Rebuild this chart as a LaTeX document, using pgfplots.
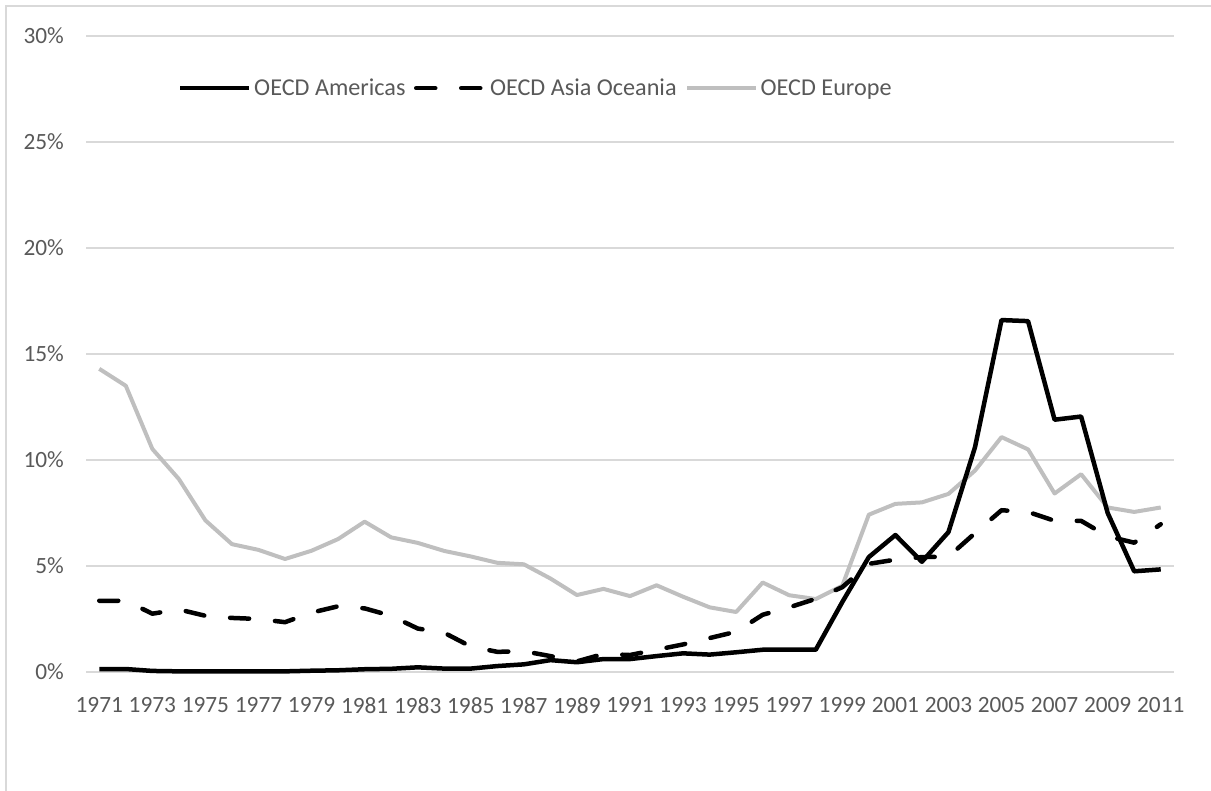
\documentclass[border=0pt]{standalone}
\usepackage{pgfplots}
\pgfplotsset{compat=1.18}
\usepackage{fontspec}
\setmainfont{Carlito}
\definecolor{gridc}{HTML}{D9D9D9}
\definecolor{txt}{HTML}{595959}
\definecolor{eur}{HTML}{BFBFBF}

\pgfplotstableread{
year am as eu
1971 0.14 3.36 14.30
1972 0.14 3.36 13.50
1973 0.05 2.75 10.52
1974 0.03 2.95 9.10
1975 0.03 2.65 7.15
1976 0.03 2.55 6.03
1977 0.03 2.50 5.76
1978 0.03 2.35 5.33
1979 0.06 2.80 5.72
1980 0.08 3.10 6.27
1981 0.13 3.00 7.09
1982 0.15 2.65 6.35
1983 0.22 2.05 6.09
1984 0.16 1.85 5.71
1985 0.16 1.20 5.45
1986 0.28 0.95 5.15
1987 0.36 0.98 5.08
1988 0.56 0.75 4.41
1989 0.46 0.50 3.63
1990 0.61 0.85 3.92
1991 0.61 0.80 3.58
1992 0.75 1.05 4.09
1993 0.88 1.30 3.55
1994 0.82 1.60 3.05
1995 0.93 1.90 2.83
1996 1.05 2.70 4.22
1997 1.05 3.05 3.62
1998 1.05 3.45 3.44
1999 3.30 4.00 4.07
2000 5.42 5.10 7.42
2001 6.46 5.30 7.93
2002 5.20 5.42 8.00
2003 6.60 5.44 8.40
2004 10.60 6.55 9.50
2005 16.60 7.63 11.08
2006 16.55 7.55 10.50
2007 11.90 7.13 8.42
2008 12.05 7.13 9.33
2009 7.50 6.40 7.76
2010 4.75 6.10 7.55
2011 4.84 6.97 7.76
}\datatable

\begin{document}
\begin{tikzpicture}[x=1bp,y=1bp]
\path[use as bounding box] (0,0) rectangle (1211,791);
\draw[gridc, line width=1.5bp] (6,0) -- (6,785) -- (1211,785);
\begin{axis}[
  at={(86bp,119bp)}, anchor=south west,
  scale only axis, width=1088bp, height=636bp,
  xmin=1970.5, xmax=2011.5, ymin=0, ymax=30,
  clip=false,
  axis line style={draw=none},
  major tick length=0pt,
  ymajorgrids,
  major grid style={gridc, line width=1.2bp},
  ytick={0,5,10,15,20,25,30},
  yticklabels={0\%,5\%,10\%,15\%,20\%,25\%,30\%},
  xtick={1971,1973,1975,1977,1979,1981,1983,1985,1987,1989,1991,1993,1995,1997,1999,2001,2003,2005,2007,2009,2011},
  xticklabels={1971,1973,1975,1977,1979,1981,1983,1985,1987,1989,1991,1993,1995,1997,1999,2001,2003,2005,2007,2009,2011},
  every tick label/.append style={font=\fontsize{23.3bp}{27bp}\selectfont, text=txt},
  xticklabel style={anchor=north, inner sep=0pt, yshift=-25bp},
  yticklabel style={anchor=east, inner sep=0pt, xshift=-22bp},
  legend columns=3,
  legend style={at={(0.0846,0.918)}, anchor=west, draw=none, fill=none, inner sep=0pt,
    font=\fontsize{24.2bp}{28bp}\selectfont, text=txt,
    /tikz/every even column/.append style={column sep=6bp},
    nodes={inner sep=2.5bp}},
  legend image code/.code={\draw[#1] (0bp,0bp) -- (69bp,0bp);},
]
\addlegendimage{black, line width=4.5bp}
\addlegendentry{OECD Americas}
\addlegendimage{black, line width=4.5bp, dash pattern=on 19bp off 26bp, line cap=round}
\addlegendentry{OECD Asia Oceania}
\addlegendimage{eur, line width=4bp}
\addlegendentry{OECD Europe}

\addplot[forget plot, eur, line width=4bp, line join=round] table[x=year, y=eu] {\datatable};
\addplot[forget plot, black, line width=4.5bp, line join=round] table[x=year, y=am] {\datatable};
\addplot[forget plot, black, line width=4.5bp, line join=round, line cap=round, dash pattern=on 19bp off 26bp] table[x=year, y=as] {\datatable};
\end{axis}
\end{tikzpicture}
\end{document}
